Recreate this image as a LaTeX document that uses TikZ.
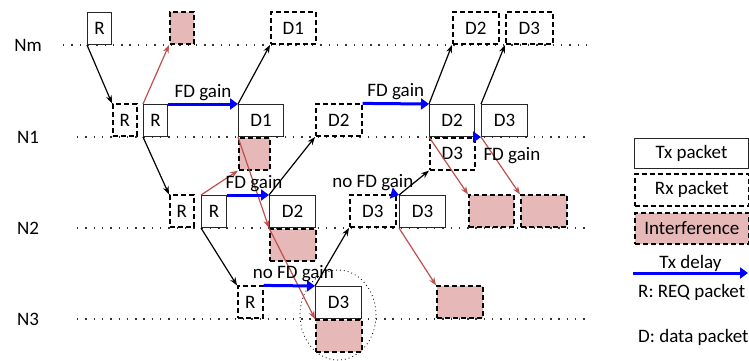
\documentclass[tikz,border=0pt]{standalone}
\usepackage{fontspec}
\setmainfont{Carlito}
\usetikzlibrary{arrows.meta}
\definecolor{intred}{HTML}{C0504D}
\definecolor{intfill}{HTML}{E6B9B8}
\tikzset{
  pkt/.style={minimum height=32pt, inner sep=0pt, fill=white},
  txpkt/.style={pkt, draw=black!85, line width=1pt},
  rxpkt/.style={pkt, draw=black, line width=1.6pt, dash pattern=on 5pt off 3pt},
  intpkt/.style={rxpkt, fill=intfill},
  timeline/.style={line width=1.4pt, dash pattern=on 1.4pt off 6.9pt, black!80},
  sig/.style={->, line width=1.2pt},
  intf/.style={->, line width=1.2pt, draw=intred},
  delay/.style={-{Triangle[length=8pt,width=11pt]}, line width=3pt, blue},
}
\begin{document}
\begin{tikzpicture}[x=1pt,y=-1pt,>={Stealth[length=8pt,width=6pt]},font=\fontsize{19}{22}\selectfont]
\useasboundingbox (0,0) rectangle (749,360);
% time lines
\foreach \n/\y/\xs in {Nm/45/63,N1/137/77,N2/228/77,N3/319/77}{
  \node (lab\n) at (28,\y) {\n};
  \draw[timeline] (\xs,\y) -- (588,\y);
}
% Nm
\node[txpkt, minimum width=24pt, anchor=south west] (mR) at (87,45) {R};
\node[intpkt, minimum width=24pt, anchor=south west] (mI) at (169,45) {};
\node[rxpkt, minimum width=45pt, anchor=south west] (mD1) at (270,45) {D1};
\node[rxpkt, minimum width=46pt, anchor=south west] (mD2) at (452,45) {D2};
\node[rxpkt, minimum width=47pt, anchor=south west] (mD3) at (505,45) {D3};
% N1
\node[rxpkt, minimum width=24pt, anchor=south west] (aRr) at (112,137) {R};
\node[txpkt, minimum width=24pt, anchor=south west] (aR) at (143,137) {R};
\node[txpkt, minimum width=45pt, anchor=south west] (aD1) at (238,137) {D1};
\node[intpkt, minimum width=31pt, anchor=north west] (aI) at (238,137) {};
\node[rxpkt, minimum width=46pt, anchor=south west] (aD2r) at (315,137) {D2};
\node[txpkt, minimum width=45pt, anchor=south west] (aD2) at (429,137) {D2};
\node[txpkt, minimum width=46pt, anchor=south west] (aD3) at (481,137) {D3};
\node[rxpkt, minimum width=45pt, anchor=north west] (aD3r) at (429,137) {D3};
% N2
\node[rxpkt, minimum width=24pt, anchor=south west] (bRr) at (169,228) {R};
\node[txpkt, minimum width=25pt, anchor=south west] (bR) at (201,228) {R};
\node[txpkt, minimum width=46pt, anchor=south west] (bD2) at (269,228) {D2};
\node[intpkt, minimum width=46pt, anchor=north west] (bI) at (269,228) {};
\node[rxpkt, minimum width=46pt, anchor=south west] (bD3r) at (349,228) {D3};
\node[txpkt, minimum width=46pt, anchor=south west] (bD3) at (399,228) {D3};
\node[intpkt, minimum width=45pt, anchor=south west] (bI2) at (468,228) {};
\node[intpkt, minimum width=46pt, anchor=south west] (bI3) at (520,228) {};
% N3
\node[rxpkt, minimum width=25pt, anchor=south west] (cRr) at (237,319) {R};
\node[txpkt, minimum width=46pt, anchor=south west] (cD3) at (315,319) {D3};
\node[intpkt, minimum width=46pt, anchor=north west] (cI) at (315,319) {};
\node[intpkt, minimum width=46pt, anchor=south west] (cI2) at (436,319) {};
\draw[line width=0.8pt, dash pattern=on 0.9pt off 3pt] (338,315) ellipse [x radius=38pt, y radius=45pt];
% received packets
\draw[sig] (mR.south west) -- (aRr.north west);
\draw[sig] (aR.south west) -- (bRr.north west);
\draw[sig] (bR.south west) -- (cRr.north west);
\draw[sig] (aD1.north west) -- (mD1.south west);
\draw[sig] (bD2.north west) -- (aD2r.south west);
\draw[sig] (cD3.north west) -- (bD3r.south west);
\draw[sig] (bD3.north west) -- (aD3r.south west);
\draw[sig] (aD2.north west) -- (mD2.south west);
\draw[sig] (aD3.north west) -- (mD3.south west);
% interference
\draw[intf] (aR.north west) -- (mI.south west);
\draw[intf] (bR.north west) -- (aI.south west);
\draw[intf] (aD1.south west) -- (bI.north west);
\draw[intf] (bD2.south west) -- (cI.north west);
\draw[intf] (bD3.south west) -- (cI2.north west);
\draw[intf] (aD2.south west) -- (bI2.north west);
\draw[intf] (aD3.south west) -- (bI3.north west);
% tx delays
\draw[delay] (aR.north east) -- node[above, inner sep=2pt, text=black]{FD gain} (aD1.north west);
\draw[delay] (aD2r.north east) -- node[above, inner sep=2pt, text=black]{FD gain} (aD2.north west);
\draw[delay] (bR.north east) -- node[above, inner sep=2pt, xshift=6pt, text=black]{FD gain} (bD2.north west);
\draw[delay] (cRr.north east) -- node[above, inner sep=2pt, xshift=4pt, text=black]{no FD gain} (cD3.north west);
\draw[delay] (bD3r.north east) -- node[above, inner sep=2pt, xshift=-25pt, text=black]{no FD gain} (bD3.north west);
\draw[delay] (aD2.south east) -- (aD3.south west) node[anchor=north west, inner sep=1pt, yshift=-8pt, text=black]{FD gain};
% legend
\node[txpkt, minimum width=114pt, minimum height=30pt, anchor=north west] (legTx) at (634,138) {Tx packet};
\node[rxpkt, minimum width=114pt, minimum height=32pt, anchor=north west] (legRx) at (634,173) {Rx packet};
\node[intpkt, minimum width=114pt, minimum height=31pt, anchor=north west] (legInt) at (634,212) {Interference};
\coordinate (dlyA) at (633,273);
\coordinate (dlyB) at (748,273);
\draw[delay] (dlyA) -- node[above, inner sep=0pt, text=black]{Tx delay} (dlyB);
\node[anchor=west, inner sep=0pt] (legR) at (638,292) {R: REQ packet};
\node[anchor=west, inner sep=0pt] (legD) at (638,337) {D: data packet};
\end{tikzpicture}
\end{document}
